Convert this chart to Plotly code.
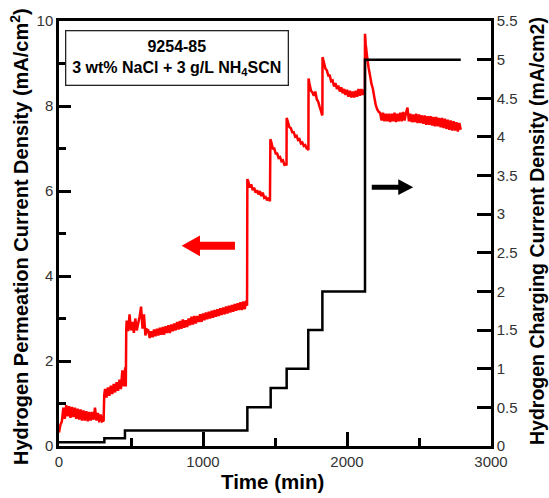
import plotly.graph_objects as go

# ---------------- data ----------------
# Hydrogen charging current density (right axis, mA/cm2) - step profile
charge_time = [0, 315, 458, 1308, 1470, 1581, 1731, 1829, 2125, 2790]
charge_value = [0.05, 0.1, 0.2, 0.5, 0.75, 1.0, 1.5, 2.0, 5.0, 5.0]

# Hydrogen permeation current density (left axis, mA/cm2)
perm_time = [
    # 0-314
    0, 10, 20, 30, 40, 50, 60, 70, 80, 90, 100, 110, 120, 130, 140, 150, 160, 170, 180, 190,
    200, 210, 220, 230, 240, 250, 260, 270, 280, 290, 300, 310, 314,
    # 320-467
    320, 330, 340, 350, 360, 370, 380, 390, 400, 410, 420, 430, 440, 450, 460, 464, 467,
    # 470-610
    470, 480, 490, 500, 510, 520, 530, 540, 550, 560, 570, 580, 590, 600, 610,
    # 620-1308
    620, 630, 640, 650, 660, 670, 680, 690, 700, 710, 720, 730, 740, 750, 760, 770, 780, 790,
    800, 810, 820, 830, 840, 850, 860, 870, 880, 890, 900, 910, 920, 930, 940, 950, 960, 970,
    980, 990, 1000, 1010, 1020, 1030, 1040, 1050, 1060, 1070, 1080, 1090, 1100, 1110, 1120,
    1130, 1140, 1150, 1160, 1170, 1180, 1190, 1200, 1210, 1220, 1230, 1240, 1250, 1260, 1270,
    1280, 1290, 1300, 1306, 1308,
    # 1315-1468
    1315, 1325, 1335, 1345, 1355, 1365, 1375, 1385, 1395, 1405, 1415, 1425, 1435, 1445, 1455,
    1465, 1468,
    # 1475-1581
    1475, 1485, 1495, 1505, 1515, 1525, 1535, 1545, 1555, 1565, 1575, 1580, 1581,
    # 1590-1733
    1590, 1600, 1610, 1620, 1630, 1640, 1650, 1660, 1670, 1680, 1690, 1700, 1710, 1720, 1728,
    1732, 1733,
    # 1740-1830
    1740, 1750, 1760, 1770, 1780, 1790, 1800, 1810, 1820, 1826, 1829, 1830,
    # 1840-2125
    1840, 1850, 1860, 1870, 1880, 1890, 1900, 1910, 1920, 1930, 1940, 1950, 1960, 1970, 1980,
    1990, 2000, 2010, 2020, 2030, 2040, 2050, 2060, 2070, 2080, 2090, 2100, 2110, 2120, 2124,
    2125,
    # 2130-2790
    2130, 2140, 2150, 2160, 2170, 2180, 2190, 2200, 2210, 2220, 2230, 2240, 2250, 2260, 2270,
    2280, 2290, 2300, 2310, 2320, 2330, 2340, 2350, 2360, 2370, 2380, 2390, 2400, 2410, 2420,
    2430, 2440, 2450, 2460, 2470, 2480, 2490, 2500, 2510, 2520, 2530, 2540, 2550, 2560, 2570,
    2580, 2590, 2600, 2610, 2620, 2630, 2640, 2650, 2660, 2670, 2680, 2690, 2700, 2710, 2720,
    2730, 2740, 2750, 2760, 2770, 2780, 2790,
]
perm_value = [
    # 0-314
    0.32, 0.50, 0.58, 0.90, 0.64, 0.96, 0.70, 0.94, 0.66, 0.92, 0.68, 0.90, 0.64, 0.88, 0.62,
    0.86, 0.60, 0.84, 0.60, 0.82, 0.58, 0.80, 0.60, 0.80, 0.62, 0.90, 0.60, 0.78, 0.56, 0.74,
    0.58, 0.60, 1.20,
    # 320-467
    1.34, 1.14, 1.38, 1.18, 1.42, 1.22, 1.46, 1.26, 1.50, 1.30, 1.56, 1.34, 1.78, 1.40, 1.85,
    1.40, 2.75,
    # 470-610
    2.95, 2.70, 3.10, 2.72, 2.92, 2.66, 3.00, 2.72, 2.88, 3.05, 3.28, 2.76, 3.10, 2.60, 2.74,
    # 620-1308
    2.72, 2.54, 2.70, 2.56, 2.74, 2.58, 2.76, 2.60, 2.78, 2.62, 2.80, 2.62, 2.82, 2.66, 2.84,
    2.66, 2.86, 2.70, 2.88, 2.72, 2.92, 2.74, 2.94, 2.76, 2.98, 2.78, 2.96, 2.80, 3.00, 2.84,
    3.04, 2.86, 3.06, 2.88, 3.06, 2.92, 3.10, 2.92, 3.12, 2.96, 3.14, 2.98, 3.16, 3.00, 3.18,
    3.02, 3.20, 3.04, 3.22, 3.06, 3.24, 3.08, 3.26, 3.10, 3.28, 3.12, 3.30, 3.14, 3.32, 3.16,
    3.34, 3.18, 3.36, 3.20, 3.38, 3.20, 3.40, 3.22, 3.42, 3.30, 6.28,
    # 1315-1468
    6.22, 6.08, 6.16, 6.02, 6.08, 5.96, 6.02, 5.92, 6.00, 5.88, 5.96, 5.84, 5.86, 5.78, 5.84,
    5.76, 7.22,
    # 1475-1581
    7.14, 7.00, 7.00, 6.88, 6.88, 6.78, 6.80, 6.70, 6.72, 6.62, 6.64, 6.60, 7.72,
    # 1590-1733
    7.62, 7.50, 7.48, 7.38, 7.38, 7.28, 7.30, 7.20, 7.22, 7.12, 7.14, 7.06, 7.08, 7.00, 6.99,
    6.96, 8.65,
    # 1740-1830
    8.52, 8.36, 8.32, 8.24, 8.34, 8.16, 8.10, 7.98, 7.88, 7.80, 7.78, 9.15,
    # 1840-2125
    9.02, 8.88, 8.84, 8.72, 8.72, 8.58, 8.60, 8.46, 8.54, 8.40, 8.48, 8.34, 8.44, 8.30, 8.40,
    8.26, 8.38, 8.22, 8.36, 8.20, 8.34, 8.20, 8.36, 8.22, 8.40, 8.24, 8.40, 8.26, 8.38, 8.36,
    9.70,
    # 2130-2790
    9.45, 9.15, 8.90, 8.72, 8.52, 8.40, 8.20, 8.02, 7.92, 7.86, 7.84, 7.66, 7.84, 7.64, 7.82,
    7.64, 7.82, 7.62, 7.82, 7.64, 7.84, 7.62, 7.82, 7.64, 7.84, 7.64, 7.86, 7.66, 7.84, 7.96,
    7.64, 7.82, 7.62, 7.80, 7.62, 7.82, 7.60, 7.80, 7.60, 7.78, 7.58, 7.78, 7.56, 7.76, 7.56,
    7.76, 7.54, 7.74, 7.52, 7.74, 7.52, 7.72, 7.50, 7.72, 7.48, 7.70, 7.46, 7.68, 7.44, 7.66,
    7.42, 7.64, 7.42, 7.62, 7.40, 7.60, 7.44,
]
assert len(perm_time) == len(perm_value), (len(perm_time), len(perm_value))

# Annotation arrows (data units): tip, tail, y
red_arrow = dict(tip=852, tail=1222, y=4.71, head_len=127, head_half=0.245, shaft_half=0.093)
black_arrow = dict(tip=2460, tail=2172, y=6.09, head_len=104, head_half=0.186, shaft_half=0.058)

box_line1 = "9254-85"
box_line2 = "3 wt% NaCl + 3 g/L NH<sub>4</sub>SCN"

FONT = "Liberation Sans, Arial, sans-serif"
TICKCOL = "#333333"

fig = go.Figure()
fig.add_trace(go.Scatter(x=perm_time, y=perm_value, mode="lines",
                         line=dict(color="#ff0000", width=2.5, simplify=False), yaxis="y"))
fig.add_trace(go.Scatter(x=charge_time, y=charge_value, mode="lines",
                         line=dict(color="black", width=2.5, shape="hv"), yaxis="y2"))


def arrow_path(a, direction):
    tip, tail, y = a["tip"], a["tail"], a["y"]
    hl, hh, sh = a["head_len"], a["head_half"], a["shaft_half"]
    back = tip + direction * hl
    return (f"M {tip},{y} L {back},{y + hh} L {back},{y + sh} L {tail},{y + sh} "
            f"L {tail},{y - sh} L {back},{y - sh} L {back},{y - hh} Z")


fig.add_shape(type="path", xref="x", yref="y", path=arrow_path(red_arrow, +1),
              fillcolor="#ff0000", line=dict(width=0))
fig.add_shape(type="path", xref="x", yref="y", path=arrow_path(black_arrow, -1),
              fillcolor="black", line=dict(width=0))

fig.add_annotation(xref="paper", yref="paper", x=0.272, y=0.9135, xanchor="center", yanchor="middle",
                   text=f"<b>{box_line1}</b><br><b>{box_line2}</b>", showarrow=False,
                   font=dict(family=FONT, size=16, color="black"), align="center",
                   width=219, height=51, bordercolor="#222", borderwidth=1.3, borderpad=1,
                   bgcolor="white")

fig.add_annotation(xref="paper", yref="paper", x=0.495, y=-0.083, xanchor="center", yanchor="middle",
                   text="<b>Time (min)</b>", showarrow=False, font=dict(family=FONT, size=20.5, color="black"))
fig.add_annotation(xref="paper", yref="paper", x=-0.0926, y=0.494, xanchor="center", yanchor="middle",
                   textangle=-90, text="<b>Hydrogen Permeation Current Density (mA/cm<sup>2</sup>)</b>",
                   showarrow=False, font=dict(family=FONT, size=20, color="black"))
fig.add_annotation(xref="paper", yref="paper", x=1.108, y=0.505, xanchor="center", yanchor="middle",
                   textangle=-90, text="<b>Hydrogen Charging Current Density (mA/cm2)</b>",
                   showarrow=False, font=dict(family=FONT, size=19.5, color="black"))

axis_common = dict(showline=True, linecolor="black", linewidth=2.5, showgrid=False, zeroline=False,
                   ticks="inside", tickcolor="black", tickwidth=2.5,
                   tickfont=dict(family=FONT, size=15, color=TICKCOL))

fig.update_layout(
    width=549, height=498,
    margin=dict(l=59, r=58, t=16, b=52),
    plot_bgcolor="white", paper_bgcolor="white",
    showlegend=False,
    xaxis=dict(range=[0, 3000], tick0=0, dtick=1000, ticklen=14, mirror=True,
               minor=dict(ticks="inside", ticklen=8, tickwidth=2.5, tickcolor="black", dtick=500, tick0=0),
               **axis_common),
    yaxis=dict(range=[0, 10], tick0=0, dtick=2, ticklen=12,
               minor=dict(ticks="inside", ticklen=7, tickwidth=2.5, tickcolor="black", dtick=1, tick0=0),
               **axis_common),
    yaxis2=dict(range=[0, 5.5], tick0=0, dtick=0.5, ticklen=14, overlaying="y", side="right",
                **axis_common),
)

fig.write_html("out.html")
